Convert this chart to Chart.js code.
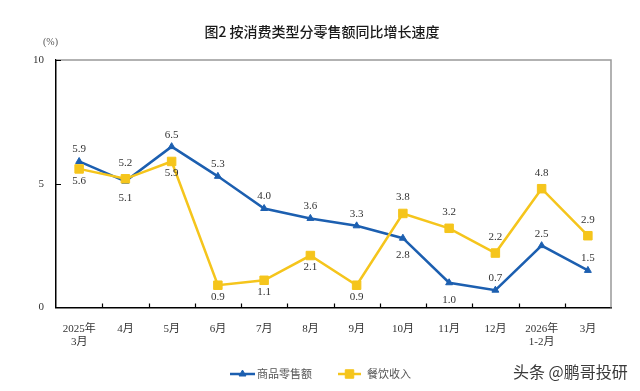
<!DOCTYPE html>
<html>
<head>
<meta charset="utf-8">
<script src="https://cdn.jsdelivr.net/npm/chart.js@4.4.1/dist/chart.umd.min.js"></script>
<style>
  html, body { margin: 0; padding: 0; background: #fff; }
  #wrap { width: 640px; height: 391px; }
</style>
</head>
<body>
<div id="wrap"><canvas id="chart" width="640" height="391"></canvas></div>
<script>
const months = [['2025年', '3月'], '4月', '5月', '6月', '7月', '8月', '9月', '10月', '11月', '12月', ['2026年', '1-2月'], '3月'];
const goodsRetail = [5.9, 5.1, 6.5, 5.3, 4.0, 3.6, 3.3, 2.8, 1.0, 0.7, 2.5, 1.5];
const cateringIncome = [5.6, 5.2, 5.9, 0.9, 1.1, 2.1, 0.9, 3.8, 3.2, 2.2, 4.8, 2.9];
// where each value label sits relative to its point
const goodsLabelSide = ['up', 'down', 'up', 'up', 'up', 'up', 'up', 'down', 'down', 'up', 'up', 'up'];
const cateringLabelSide = ['down', 'up', 'down', 'down', 'down', 'down', 'down', 'up', 'up', 'up', 'up', 'up'];
const yTicks = [0, 5, 10];

const BLUE = '#1c5fb0';
const YELLOW = '#f5c51c';
const SERIF = '"Liberation Serif", "Noto Sans CJK SC", serif';
const CJK = '"Noto Sans CJK SC", sans-serif';

const valueLabels = {
  id: 'valueLabels',
  afterDatasetsDraw(chart) {
    const ctx = chart.ctx;
    ctx.save();
    ctx.font = '11px ' + SERIF;
    ctx.fillStyle = '#333';
    ctx.textAlign = 'center';
    ctx.textBaseline = 'middle';
    chart.data.datasets.forEach((ds, di) => {
      const meta = chart.getDatasetMeta(di);
      meta.data.forEach((pt, i) => {
        const up = ds.labelSide[i] === 'up';
        const y = up ? pt.y - ds.labelUp : pt.y + ds.labelDown;
        ctx.fillText(ds.data[i].toFixed(1), pt.x, y);
      });
    });
    ctx.restore();
  }
};

const decorations = {
  id: 'decorations',
  afterDraw(chart) {
    const ctx = chart.ctx;
    const area = chart.chartArea;
    const x = chart.scales.x;
    const y = chart.scales.y;
    ctx.save();

    // title
    ctx.fillStyle = '#1a1a1a';
    ctx.font = '500 14px ' + CJK;
    ctx.textAlign = 'center';
    ctx.textBaseline = 'middle';
    ctx.fillText('图2 按消费类型分零售额同比增长速度', 322, 31.5);

    // unit
    ctx.fillStyle = '#555';
    ctx.font = '10px ' + SERIF;
    ctx.textAlign = 'left';
    ctx.fillText('(%)', 43, 42);

    // top and right frame
    ctx.strokeStyle = '#999';
    ctx.lineWidth = 1.5;
    ctx.beginPath();
    ctx.moveTo(area.left, area.top);
    ctx.lineTo(area.right, area.top);
    ctx.lineTo(area.right, area.bottom);
    ctx.stroke();

    // inward tick marks
    ctx.strokeStyle = '#000';
    ctx.lineWidth = 1.2;
    ctx.beginPath();
    for (let i = 1; i < months.length; i++) {
      const px = Math.round((x.getPixelForValue(i - 1) + x.getPixelForValue(i)) / 2) + 0.5;
      ctx.moveTo(px, area.bottom);
      ctx.lineTo(px, area.bottom - 4);
    }
    yTicks.slice(1).forEach(v => {
      const py = Math.round(y.getPixelForValue(v)) + 0.5;
      ctx.moveTo(area.left, py);
      ctx.lineTo(area.left + 5, py);
    });
    ctx.stroke();

    // legend
    const legendY = 374;
    const items = [
      { x0: 230, x1: 255, tx: 257, color: BLUE, style: 'triangle', r: 4, text: '商品零售额' },
      { x0: 338, x1: 361, tx: 367, color: YELLOW, style: 'rect', r: 6, text: '餐饮收入' }
    ];
    items.forEach(it => {
      ctx.strokeStyle = it.color;
      ctx.lineWidth = 2.5;
      ctx.beginPath();
      ctx.moveTo(it.x0, legendY);
      ctx.lineTo(it.x1, legendY);
      ctx.stroke();
      ctx.fillStyle = it.color;
      ctx.lineWidth = 1;
      Chart.helpers.drawPoint(ctx, { pointStyle: it.style, radius: it.r, rotation: 0, borderWidth: 1 }, (it.x0 + it.x1) / 2, legendY);
      ctx.fillStyle = '#555';
      ctx.font = '11px ' + CJK;
      ctx.textAlign = 'left';
      ctx.textBaseline = 'middle';
      ctx.fillText(it.text, it.tx, legendY);
    });

    // watermark
    ctx.fillStyle = '#3a3a3a';
    ctx.font = '16px ' + CJK;
    ctx.textAlign = 'left';
    ctx.textBaseline = 'middle';
    ctx.fillText('头条 @鹏哥投研', 513, 372);

    ctx.restore();
  }
};

new Chart(document.getElementById('chart').getContext('2d'), {
  type: 'line',
  data: {
    labels: months,
    datasets: [
      {
        label: '商品零售额',
        data: goodsRetail,
        labelSide: goodsLabelSide,
        labelUp: 12,
        labelDown: 17,
        borderColor: BLUE,
        backgroundColor: BLUE,
        borderWidth: 2.5,
        pointStyle: 'triangle',
        pointRadius: 4,
        pointBorderWidth: 1,
        tension: 0,
        order: 2
      },
      {
        label: '餐饮收入',
        data: cateringIncome,
        labelSide: cateringLabelSide,
        labelUp: 16,
        labelDown: 12,
        borderColor: YELLOW,
        backgroundColor: YELLOW,
        borderWidth: 2.5,
        pointStyle: 'rect',
        pointRadius: 6,
        pointBorderWidth: 1,
        tension: 0,
        order: 1
      }
    ]
  },
  options: {
    responsive: false,
    animation: false,
    devicePixelRatio: 1,
    layout: { padding: { left: 0, right: 29, top: 60, bottom: 43.5 } },
    plugins: {
      legend: { display: false },
      title: { display: false },
      tooltip: { enabled: false }
    },
    scales: {
      x: {
        offset: true,
        grid: { display: false },
        border: { color: '#000', width: 1.5 },
        ticks: {
          autoSkip: false,
          maxRotation: 0,
          padding: 8,
          color: '#333',
          font: { family: SERIF, size: 11, lineHeight: 1.1 }
        },
        afterFit(scale) { scale.height = 40; }
      },
      y: {
        min: 0,
        max: 10,
        grid: { display: false },
        border: { color: '#000', width: 1.5 },
        ticks: {
          stepSize: 5,
          padding: 4,
          color: '#333',
          font: { family: SERIF, size: 11 }
        },
        afterBuildTicks(scale) { scale.ticks = yTicks.map(v => ({ value: v })); },
        afterFit(scale) { scale.width = 56; }
      }
    }
  },
  plugins: [valueLabels, decorations]
});
</script>
</body>
</html>
